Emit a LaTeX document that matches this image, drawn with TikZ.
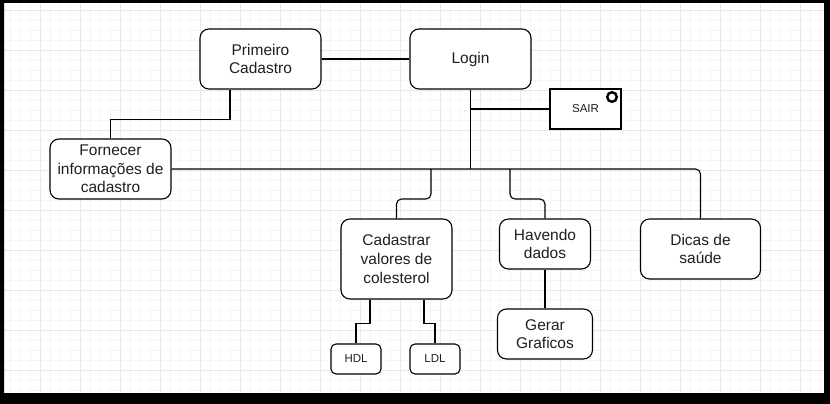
\documentclass[tikz,border=0pt]{standalone}
\usepackage{fontspec}
\setmainfont{Liberation Sans}
\begin{document}
\begin{tikzpicture}[x=1pt,y=-1pt,
  box/.style={draw, line width=1.1pt, rounded corners=9pt, align=center, inner sep=0pt, fill=white, text=black!88,
    font=\fontsize{15.5}{18.6}\selectfont, minimum width=121pt, minimum height=60pt},
  smallbox/.style={draw, line width=1.1pt, rounded corners=5pt, inner sep=0pt, fill=white, text=black!88,
    font=\fontsize{11.5}{13}\selectfont, minimum width=50pt, minimum height=30pt},
  conn/.style={line width=1.1pt},
  rconn/.style={line width=1.1pt, rounded corners=5pt}]
\useasboundingbox (0,0) rectangle (830,404);
% background and grid
\fill[white] (0,0) rectangle (830,404);
\foreach \x in {10,20,...,820} \draw[black!4, line width=0.6pt] (\x,3) -- (\x,393);
\foreach \y in {10,20,...,390} \draw[black!4, line width=0.6pt] (4,\y) -- (824,\y);
\foreach \x in {40,80,...,800} \draw[black!9, line width=0.7pt] (\x,3) -- (\x,393);
\foreach \y in {10,50,...,390} \draw[black!9, line width=0.7pt] (4,\y) -- (824,\y);
\fill[black, even odd rule] (0,0) rectangle (830,404) (4,3) rectangle (824,393);
% nodes
\node[box] (pc) at (260.5,59) {Primeiro\\Cadastro};
\node[box] (login) at (470.5,59) {Login};
\node[draw, line width=1.1pt, fill=white, text=black!88, font=\fontsize{11.5}{13}\selectfont,
  minimum width=71pt, minimum height=40pt, inner sep=0pt] (sair) at (585.5,109) {SAIR};
\node[circle, draw, line width=2.4pt, minimum size=9.6pt, inner sep=0pt] (sairicon) at (612,97) {};
\node[box] (forn) at (110.5,169) {Fornecer\\informações de\\cadastro};
\node[box, minimum width=111pt, minimum height=80pt] (cad) at (396.5,259) {Cadastrar\\valores de\\colesterol};
\node[box, minimum width=91pt, minimum height=50pt] (hav) at (545,244) {Havendo\\dados};
\node[box, minimum width=120pt, minimum height=60pt] (dicas) at (700.5,249) {Dicas de\\saúde};
\node[box, minimum width=95pt, minimum height=50pt] (gerar) at (545,334) {Gerar\\Graficos};
\node[smallbox] (hdl) at (356,359) {HDL};
\node[smallbox] (ldl) at (435,359) {LDL};
% junctions
\coordinate (jcad) at (431,169);
\coordinate (jhav) at (510,169);
% connectors
\draw[conn] (pc) -- (login);
\draw[conn] ([xshift=-30.5pt]pc.south) -- ++(0,30) -| (forn.north);
\draw[conn] (login.south) -- (login.south |- forn.east);
\draw[conn] (login.south |- sair.west) -- (sair.west);
\draw[rconn] (forn.east) -- (dicas.north |- forn.east) -- (dicas.north);
\draw[rconn] (jcad) -- ++(0,30) -| (cad.north);
\draw[rconn] (jhav) -- ++(0,30) -| (hav.north);
\draw[conn] (hav.south) -- (gerar.north);
\draw[conn] ([xshift=-26.5pt]cad.south) -- ++(0,24) -| (hdl.north);
\draw[conn] ([xshift=27.5pt]cad.south) -- ++(0,24) -| (ldl.north);
\end{tikzpicture}
\end{document}
